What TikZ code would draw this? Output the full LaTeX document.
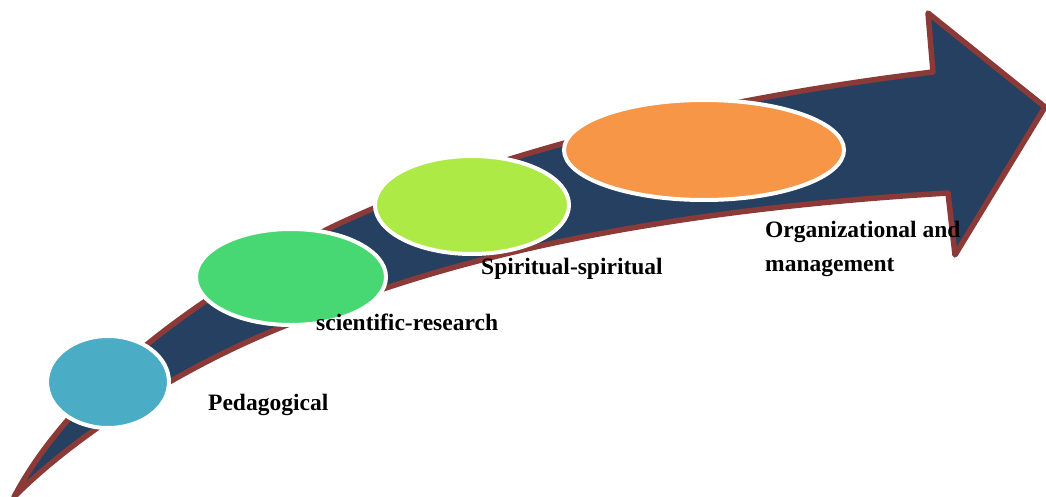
\documentclass[tikz,border=0pt]{standalone}
\usepackage{fontspec}
\setmainfont{Liberation Serif}
\usetikzlibrary{shapes.geometric}
\definecolor{arrowfill}{HTML}{254061}
\definecolor{arrowline}{HTML}{8C3A38}
\definecolor{cblue}{HTML}{4BACC6}
\definecolor{cgreen}{HTML}{47D873}
\definecolor{cyell}{HTML}{AEEA45}
\definecolor{corange}{HTML}{F79646}
\tikzset{
  bubble/.style={ellipse, draw=white, line width=4pt, inner sep=0pt},
  lbl/.style={font=\fontsize{23.5}{34}\selectfont\bfseries, anchor=base west, inner sep=0pt, align=left},
}
\begin{document}
\begin{tikzpicture}[x=1pt,y=-1pt]
\useasboundingbox (0,0) rectangle (1046,497);
\begin{scope}
\clip (0,0) rectangle (1046,497);
\draw[fill=arrowfill, draw=arrowline, line width=5.5pt, line join=round]
  (14,497) .. controls (60,410) and (160,315) .. (330,228)
  .. controls (480,156) and (700,100) .. (933,72)
  -- (928,13) -- (1045,107) -- (955,255) -- (948,193)
  .. controls (700,208) and (480,245) .. (300,320)
  .. controls (180,365) and (70,440) .. (14,497)
  -- cycle;
\end{scope}
\node[bubble, fill=cblue, minimum width=122pt, minimum height=92pt] (e1) at (108,382) {};
\node[bubble, fill=cgreen, minimum width=190pt, minimum height=96pt] (e2) at (291,277) {};
\node[bubble, fill=cyell, minimum width=194pt, minimum height=98pt] (e3) at (472,205) {};
\node[bubble, fill=corange, minimum width=280pt, minimum height=100pt] (e4) at (704,150) {};
\node[lbl] (t1) at (208,410) {Pedagogical};
\node[lbl] (t2) at (316,330) {scientific-research};
\node[lbl] (t3) at (481,274) {Spiritual-spiritual};
\node[lbl] (t4) at (765,237) {Organizational and};
\node[lbl] (t5) at (765,271) {management};
\end{tikzpicture}
\end{document}
